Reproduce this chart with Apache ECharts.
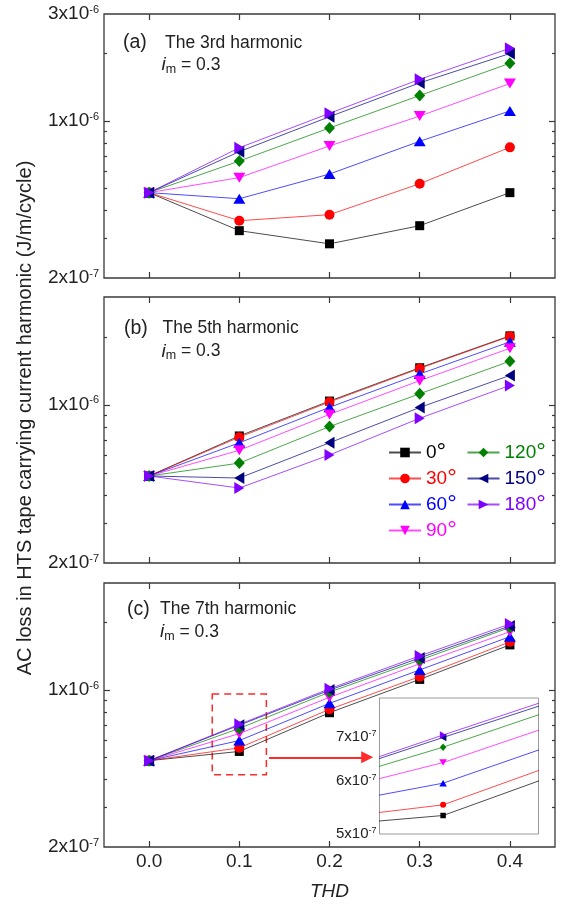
<!DOCTYPE html>
<html>
<head>
<meta charset="utf-8">
<title>AC loss vs THD</title>
<script src="https://cdn.jsdelivr.net/npm/echarts@6/dist/echarts.min.js"></script>
<style>
  html, body { margin: 0; padding: 0; background: #ffffff; }
  #chart { width: 564px; height: 904px; }
</style>
</head>
<body>
<div id="chart"></div>
<script>
// ---- data ---------------------------------------------------------------
const thd = [0, 0.1, 0.2, 0.3, 0.4];
const angles = ['0°', '30°', '60°', '90°', '120°', '150°', '180°'];

// AC loss (J/m/cycle), one row per phase angle (0° ... 180°)
const loss3rd = [
  [4.8e-7, 3.25e-7, 2.84e-7, 3.42e-7, 4.8e-7],
  [4.8e-7, 3.6e-7, 3.83e-7, 5.26e-7, 7.64e-7],
  [4.8e-7, 4.51e-7, 5.81e-7, 8.13e-7, 1.11e-6],
  [4.8e-7, 5.6e-7, 7.75e-7, 1.053e-6, 1.47e-6],
  [4.8e-7, 6.64e-7, 9.32e-7, 1.30e-6, 1.81e-6],
  [4.8e-7, 7.31e-7, 1.046e-6, 1.48e-6, 2.0e-6],
  [4.8e-7, 7.61e-7, 1.083e-6, 1.535e-6, 2.11e-6]
];
const loss5th = [
  [4.85e-7, 7.29e-7, 1.04e-6, 1.46e-6, 2.02e-6],
  [4.85e-7, 7.2e-7, 1.03e-6, 1.45e-6, 2.01e-6],
  [4.85e-7, 6.8e-7, 9.76e-7, 1.37e-6, 1.90e-6],
  [4.85e-7, 6.3e-7, 9.08e-7, 1.28e-6, 1.78e-6],
  [4.85e-7, 5.53e-7, 8.02e-7, 1.12e-6, 1.56e-6],
  [4.85e-7, 4.75e-7, 6.8e-7, 9.74e-7, 1.35e-6],
  [4.85e-7, 4.29e-7, 6.01e-7, 8.73e-7, 1.22e-6]
];
const loss7th = [
  [4.85e-7, 5.33e-7, 7.93e-7, 1.116e-6, 1.59e-6],
  [4.85e-7, 5.53e-7, 8.21e-7, 1.148e-6, 1.64e-6],
  [4.85e-7, 5.96e-7, 8.73e-7, 1.23e-6, 1.73e-6],
  [4.85e-7, 6.40e-7, 9.29e-7, 1.31e-6, 1.82e-6],
  [4.85e-7, 6.75e-7, 9.8e-7, 1.36e-6, 1.90e-6],
  [4.85e-7, 6.98e-7, 1.0e-6, 1.39e-6, 1.93e-6],
  [4.85e-7, 7.04e-7, 1.014e-6, 1.42e-6, 1.97e-6]
];

// axis ranges and tick values
const xRange = [-0.05, 0.45];
const xTicks = [0, 0.1, 0.2, 0.3, 0.4];
const yRange = [2e-7, 3e-6];
const yMajorTicks = [1e-6];
const yMinorTicks = [3e-7, 4e-7, 5e-7, 6e-7, 7e-7, 8e-7, 9e-7, 2e-6];
const yLabelsTop = [2e-7, 1e-6, 3e-6];
const yLabelsOther = [2e-7, 1e-6];
const insetXRange = [0.08, 0.13];
const insetXTicks = [0.1];
const insetYRange = [5e-7, 8e-7];
const insetYLabels = [5e-7, 6e-7, 7e-7];

// ---- styling --------------------------------------------------------------
const FONT = '"Liberation Sans", Arial, Helvetica, sans-serif';
const TEXT = '#222222';
const FRAME = '#3a3a3a';
const colors = ['#000000', '#ff0000', '#0000ff', '#ff00ff', '#008000', '#000080', '#8000ff'];
const symbols = ['rect', 'circle', 'triangle', 'triangle', 'diamond', 'triangle', 'triangle'];
const rotations = [0, 0, 0, 180, 0, 90, -90];
const sizesMain = [9, 10, [12, 10], [12, 10], [11, 12], [12, 10], [12, 10]];
const sizesInset = [5.5, 6, [7.5, 6.5], [7.5, 6.5], [6.5, 7.5], [7.5, 6.5], [7.5, 6.5]];

const grids = [
  { left: 104, top: 14, width: 451, height: 264 },
  { left: 104, top: 297, width: 451, height: 266 },
  { left: 104, top: 583, width: 451, height: 264 }
];
const insetGrid = { left: 379.5, top: 698, width: 159, height: 136 };

const LOG = v => Math.log10(v);

function sciLabel(lv) {
  let e = Math.floor(lv + 1e-9);
  let m = Math.round(Math.pow(10, lv - e));
  if (m === 10) { m = 1; e += 1; }
  return '{b|' + m + 'x10}{s|' + e + '}';
}

function richLabels(big, small) {
  return {
    b: { fontSize: big, lineHeight: big + 1, fontFamily: FONT, color: TEXT },
    s: { fontSize: small, lineHeight: small, verticalAlign: 'top', fontFamily: FONT, color: TEXT }
  };
}

const tickLine = { color: FRAME, width: 1.2 };

// ---- axes -----------------------------------------------------------------
const xAxes = [];
const yAxes = [];

grids.forEach((g, gi) => {
  ['bottom', 'top'].forEach(pos => {
    xAxes.push({
      type: 'value', gridIndex: gi, position: pos,
      min: xRange[0], max: xRange[1],
      name: (gi === 2 && pos === 'bottom') ? 'THD' : '',
      nameLocation: 'middle', nameGap: 35,
      nameTextStyle: { fontStyle: 'italic', fontSize: 19, fontFamily: FONT, color: TEXT, lineHeight: 19 },
      axisLine: { show: false, onZero: false },
      splitLine: { show: false },
      axisTick: { show: true, inside: true, length: 6, customValues: xTicks, lineStyle: tickLine },
      axisLabel: {
        show: gi === 2 && pos === 'bottom', customValues: xTicks, margin: 5,
        fontSize: 19, lineHeight: 19, fontFamily: FONT, color: TEXT,
        formatter: v => v.toFixed(1)
      }
    });
  });

  const logSpace = {
    type: 'value', gridIndex: gi, min: LOG(yRange[0]), max: LOG(yRange[1]),
    axisLine: { show: false, onZero: false }, splitLine: { show: false },
    axisLabel: { show: false }, axisTick: { show: false }
  };
  // data axis
  yAxes.push({
    type: 'log', logBase: 10, gridIndex: gi, min: yRange[0], max: yRange[1], position: 'left',
    axisLine: { show: false, onZero: false }, splitLine: { show: false },
    axisLabel: { show: false }, axisTick: { show: false }
  });
  const labels = gi === 0 ? yLabelsTop : yLabelsOther;
  ['left', 'right'].forEach(pos => {
    yAxes.push(Object.assign({}, logSpace, {
      position: pos,
      axisTick: { show: true, inside: true, length: 6, customValues: yMajorTicks.map(LOG), lineStyle: tickLine },
      axisLabel: pos === 'left' ? {
        show: true, customValues: labels.map(LOG), margin: 5,
        formatter: sciLabel, rich: richLabels(19, 11)
      } : { show: false }
    }));
    yAxes.push(Object.assign({}, logSpace, {
      position: pos,
      axisTick: { show: true, inside: true, length: 3, customValues: yMinorTicks.map(LOG), lineStyle: tickLine }
    }));
  });
});

// inset axes
['bottom', 'top'].forEach(pos => {
  xAxes.push({
    type: 'value', gridIndex: 3, position: pos, min: insetXRange[0], max: insetXRange[1],
    axisLine: { show: false, onZero: false }, splitLine: { show: false },
    axisTick: { show: true, inside: true, length: 3, customValues: insetXTicks, lineStyle: { color: '#555', width: 1 } },
    axisLabel: { show: false }
  });
});
yAxes.push({
  type: 'log', logBase: 10, gridIndex: 3, min: insetYRange[0], max: insetYRange[1], position: 'left',
  axisLine: { show: false, onZero: false }, splitLine: { show: false },
  axisLabel: { show: false }, axisTick: { show: false }
});
yAxes.push({
  type: 'value', gridIndex: 3, position: 'left', min: LOG(insetYRange[0]), max: LOG(insetYRange[1]),
  axisLine: { show: false, onZero: false }, splitLine: { show: false }, axisTick: { show: false },
  axisLabel: { show: true, customValues: insetYLabels.map(LOG), margin: 3, formatter: sciLabel, rich: richLabels(15, 9) }
});

// ---- series ---------------------------------------------------------------
function makeSeries(k, values, xi, yi, sizes, z) {
  return {
    type: 'line', name: angles[k], xAxisIndex: xi, yAxisIndex: yi,
    data: thd.map((x, i) => [x, values[i]]),
    symbol: symbols[k], symbolRotate: rotations[k], symbolSize: sizes[k],
    showSymbol: true, clip: true, z: z,
    itemStyle: { color: colors[k] },
    lineStyle: { color: colors[k], width: 1, opacity: 0.7 },
    emphasis: { disabled: true }, silent: true, animation: false
  };
}

const series = [];
[loss3rd, loss5th, loss7th].forEach((table, gi) => {
  table.forEach((row, k) => series.push(makeSeries(k, row, gi * 2, gi * 5, sizesMain, 2)));
});
loss7th.forEach((row, k) => series.push(makeSeries(k, row, 6, 15, sizesInset, 4)));

// zoom box and arrow in panel (c), attached to the 0° curve of that panel
const zoomed = series[14];
zoomed.markArea = {
  silent: true,
  itemStyle: { color: 'rgba(0,0,0,0)', borderColor: '#ff2a2a', borderWidth: 1.5, borderType: [7, 5] },
  data: [[{ coord: [0.07, 9.6e-7] }, { coord: [0.13, 4.2e-7] }]]
};
zoomed.markLine = {
  silent: true, symbol: ['none', 'triangle'], symbolSize: 12, animation: false,
  label: { show: false },
  lineStyle: { color: '#ff2a2a', width: 2, type: 'solid' },
  data: [[{ coord: [0.133, 5.02e-7] }, { coord: [0.2418, 5.02e-7] }]]
};

// ---- legends --------------------------------------------------------------
function legendBlock(names, left) {
  return {
    orient: 'vertical', left: left, top: 440.5, padding: 0, itemGap: 2,
    itemWidth: 32, itemHeight: 12, selectedMode: false,
    data: names.map(n => ({ name: n, textStyle: { color: colors[angles.indexOf(n)] } })),
    formatter: n => n.replace('°', '{d|°}'),
    textStyle: {
      fontSize: 19, lineHeight: 19, fontFamily: FONT,
      rich: { d: { fontSize: 24, lineHeight: 19, fontFamily: FONT } }
    }
  };
}

// ---- panel captions -------------------------------------------------------
function caption(x0, x1, y, tag, title) {
  return [
    { type: 'text', x: x0, y: y, silent: true,
      style: { text: tag, fontSize: 19.5, fontFamily: FONT, fill: TEXT, verticalAlign: 'middle', align: 'left' } },
    { type: 'text', x: x1, y: y, silent: true,
      style: { text: title, fontSize: 17.5, fontFamily: FONT, fill: TEXT, verticalAlign: 'middle', align: 'left' } }
  ];
}
function imLabel(x, y) {
  return { type: 'text', x: x, y: y, silent: true,
    style: {
      text: '{i|i}{m|m}{t| = 0.3}', fill: TEXT, verticalAlign: 'middle', align: 'left',
      rich: {
        i: { fontSize: 19, fontStyle: 'italic', fontFamily: FONT, lineHeight: 22, fill: TEXT },
        m: { fontSize: 12.5, fontFamily: FONT, lineHeight: 12, verticalAlign: 'bottom', fill: TEXT },
        t: { fontSize: 17.5, fontFamily: FONT, lineHeight: 22, fill: TEXT }
      }
    } };
}

const graphics = [].concat(
  caption(123, 165, 43, '(a)', 'The 3rd harmonic'), [imLabel(161.5, 65)],
  caption(124, 162.5, 328.5, '(b)', 'The 5th harmonic'), [imLabel(161.5, 351.5)],
  caption(127, 160, 609.5, '(c)', 'The 7th harmonic'), [imLabel(160, 632)],
  [{
    type: 'text', x: 25, y: 418, rotation: Math.PI / 2, silent: true,
    style: { text: 'AC loss in HTS tape carrying current harmonic (J/m/cycle)',
      fontSize: 20, fontFamily: FONT, fill: TEXT, align: 'center', verticalAlign: 'middle' }
  }]
);

// ---- chart ----------------------------------------------------------------
const chart = echarts.init(document.getElementById('chart'), null, { renderer: 'canvas' });
chart.setOption({
  backgroundColor: '#ffffff',
  animation: false,
  textStyle: { fontFamily: FONT },
  grid: grids.map(g => Object.assign({
    show: true, borderColor: FRAME, borderWidth: 1.3, backgroundColor: 'rgba(0,0,0,0)',
    containLabel: false, outerBoundsMode: 'none'
  }, g)).concat([Object.assign({
    show: true, borderColor: '#9a9a9a', borderWidth: 1, backgroundColor: '#ffffff',
    containLabel: false, outerBoundsMode: 'none', z: 3
  }, insetGrid)]),
  xAxis: xAxes,
  yAxis: yAxes,
  legend: [legendBlock(angles.slice(0, 4), 388), legendBlock(angles.slice(4), 466.5)],
  series: series,
  graphic: graphics
});
</script>
</body>
</html>
